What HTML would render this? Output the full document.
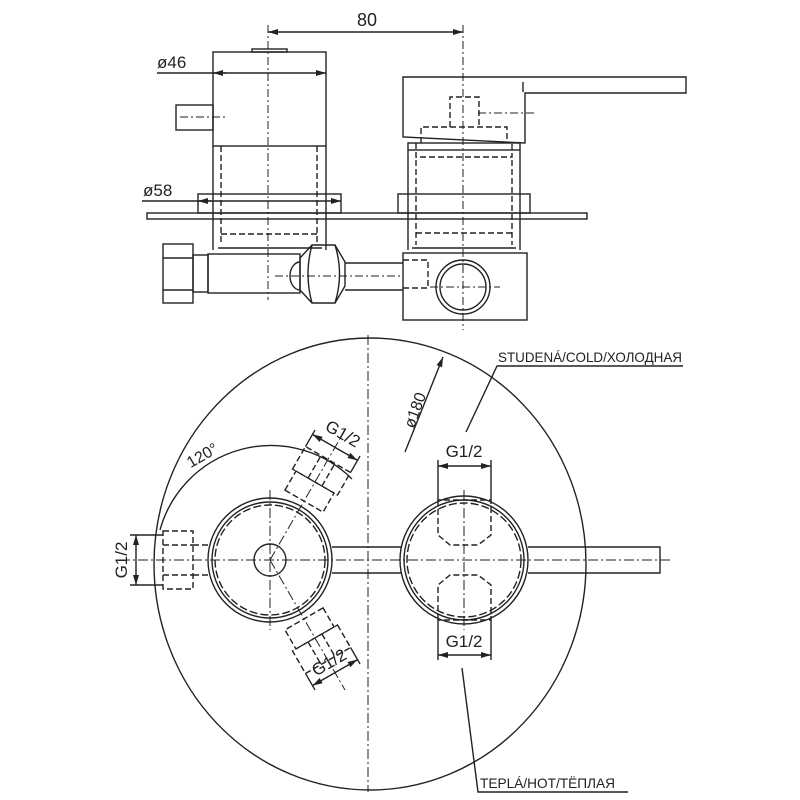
<!DOCTYPE html>
<html><head><meta charset="utf-8"><style>html,body{margin:0;padding:0;background:#fff}svg{display:block}</style></head><body>
<svg width="800" height="800" viewBox="0 0 800 800" xmlns="http://www.w3.org/2000/svg" font-family="Liberation Sans, DejaVu Sans, sans-serif" fill="none" stroke="#222" stroke-width="1.4">
<defs>
<marker id="a" viewBox="0 0 10 6" refX="10" refY="3" markerWidth="10" markerHeight="6" markerUnits="userSpaceOnUse" orient="auto-start-reverse"><path d="M0,0 L10,3 L0,6z" fill="#222" stroke="none"/></marker>
</defs>
<g stroke-dasharray="8,3,2,3" stroke-width="1">
<line x1="268" y1="25" x2="268" y2="300"/>
<line x1="463" y1="25" x2="463" y2="330"/>
<line x1="180" y1="117" x2="225" y2="117"/>
<line x1="478" y1="113" x2="535" y2="113"/>
<line x1="275" y1="276" x2="400" y2="276"/>
<line x1="430" y1="287" x2="500" y2="287"/>
</g>
<line x1="268" y1="32" x2="463" y2="32" marker-start="url(#a)" marker-end="url(#a)"/>
<text x="367" y="26" font-size="18" fill="#222" stroke="none" text-anchor="middle">80</text>
<rect x="213" y="52" width="113" height="94"/>
<rect x="252" y="49" width="35" height="3"/>
<rect x="176" y="105" width="37" height="25"/>
<line x1="157" y1="73" x2="326" y2="73" marker-end="url(#a)"/>
<path d="M226,73 L213,73" marker-end="url(#a)"/>
<text x="157" y="68" font-size="17" fill="#222" stroke="none">ø46</text>
<line x1="213" y1="146" x2="213" y2="250"/><line x1="326" y1="146" x2="326" y2="250"/>
<g stroke-dasharray="6,3"><line x1="221" y1="146" x2="221" y2="245"/><line x1="317" y1="146" x2="317" y2="245"/>
<line x1="221" y1="234" x2="317" y2="234"/></g>
<line x1="218" y1="248" x2="322" y2="248"/>
<rect x="198" y="194" width="143" height="19"/>
<line x1="142" y1="201" x2="341" y2="201" marker-end="url(#a)"/>
<path d="M211,201 L198,201" marker-end="url(#a)"/>
<text x="143" y="196" font-size="17" fill="#222" stroke="none">ø58</text>
<rect x="147" y="213" width="440" height="6"/>
<path d="M403,77 L686,77 L686,93 L525,93 L525,143 L403,137 Z"/>
<line x1="523" y1="82" x2="523" y2="92"/>
<g stroke-dasharray="6,3"><path d="M450,127 L450,97 L479,97 L479,127 M421,143 L421,127 L507,127 L507,143 M416,143 L416,157 L512,157 L512,143"/>
<line x1="416" y1="233" x2="512" y2="233"/><line x1="416" y1="160" x2="416" y2="245"/><line x1="512" y1="160" x2="512" y2="245"/></g>
<rect x="408" y="143" width="112" height="7"/>
<line x1="408" y1="150" x2="408" y2="250"/><line x1="520" y1="150" x2="520" y2="250"/>
<rect x="398" y="194" width="132" height="19"/>
<line x1="412" y1="248" x2="516" y2="248"/>
<rect x="163" y="244" width="30" height="59"/>
<line x1="163" y1="258" x2="193" y2="258"/><line x1="163" y1="290" x2="193" y2="290"/>
<rect x="193" y="255" width="15" height="37"/>
<rect x="208" y="254" width="92" height="39"/>
<path d="M300,262 A10,14 0 0 0 300,290"/>
<path d="M300,258 L312,245 L335,245 L345,262 L345,286 L335,303 L312,303 L300,290 Z"/>
<path d="M312,245 Q304,274 312,303 M335,245 Q344,274 335,303"/>
<line x1="345" y1="263" x2="403" y2="263"/><line x1="345" y1="290" x2="403" y2="290"/>
<rect x="403" y="253" width="124" height="67"/>
<path d="M403,260 L428,260 L428,288 L403,288" stroke-dasharray="6,3"/>
<circle cx="463" cy="287" r="27"/><circle cx="463" cy="287" r="23"/>
<ellipse cx="370" cy="564" rx="216" ry="226"/>
<g stroke-dasharray="10,3,2,3" stroke-width="1">
<line x1="368" y1="335" x2="368" y2="792"/>
<line x1="120" y1="560" x2="672" y2="560"/>
<line x1="270" y1="490" x2="270" y2="630"/>
<line x1="464" y1="490" x2="464" y2="630"/>
<line x1="270" y1="560" x2="345" y2="430"/>
<line x1="270" y1="560" x2="345" y2="690"/>
</g>
<circle cx="270" cy="560" r="62"/><circle cx="270" cy="560" r="58"/>
<circle cx="270" cy="560" r="55" stroke-dasharray="8,3"/>
<circle cx="270" cy="560" r="16"/>
<circle cx="464" cy="560" r="64"/><circle cx="464" cy="560" r="60"/>
<circle cx="464" cy="560" r="57" stroke-dasharray="8,3"/>
<line x1="332" y1="547" x2="402" y2="547"/><line x1="332" y1="573" x2="402" y2="573"/>
<path d="M528,547 L660,547 L660,573 L528,573"/>
<g stroke-dasharray="6,3"><rect x="163" y="531" width="30" height="58"/>
<line x1="163" y1="545" x2="193" y2="545"/><line x1="163" y1="575" x2="193" y2="575"/>
<line x1="193" y1="545" x2="210" y2="545"/><line x1="193" y1="575" x2="210" y2="575"/></g>
<line x1="136" y1="535" x2="136" y2="585" marker-start="url(#a)" marker-end="url(#a)"/>
<line x1="130" y1="535" x2="163" y2="535"/><line x1="130" y1="585" x2="163" y2="585"/>
<text transform="translate(127,560) rotate(-90)" font-size="17" fill="#222" stroke="none" text-anchor="middle">G1/2</text>
<path d="M160,530 A115,115 0 0 1 352,479"/>
<text transform="translate(205,460) rotate(-30)" font-size="16" fill="#222" stroke="none" text-anchor="middle">120°</text>
<g transform="translate(270,560) rotate(-60)">
<g stroke-dasharray="6,3"><rect x="68" y="-22" width="22" height="44"/><rect x="90" y="-26" width="26" height="52"/>
<line x1="90" y1="-8" x2="116" y2="-8"/><line x1="90" y1="8" x2="116" y2="8"/></g>
<line x1="116" y1="-26" x2="135" y2="-26"/><line x1="116" y1="26" x2="135" y2="26"/>
<line x1="130" y1="-26" x2="130" y2="26" marker-start="url(#a)" marker-end="url(#a)"/>
<text transform="translate(140,0) rotate(90)" font-size="17" fill="#222" stroke="none" text-anchor="middle">G1/2</text>
</g>
<g transform="translate(270,560) rotate(60)">
<g stroke-dasharray="6,3"><rect x="68" y="-22" width="22" height="44"/><rect x="90" y="-26" width="26" height="52"/>
<line x1="90" y1="-8" x2="116" y2="-8"/><line x1="90" y1="8" x2="116" y2="8"/></g>
<line x1="116" y1="-26" x2="135" y2="-26"/><line x1="116" y1="26" x2="135" y2="26"/>
<line x1="130" y1="-26" x2="130" y2="26" marker-start="url(#a)" marker-end="url(#a)"/>
<text transform="translate(124,0) rotate(-90)" font-size="17" fill="#222" stroke="none" text-anchor="middle">G1/2</text>
</g>
<g stroke-dasharray="6,3"><path d="M438,500 L438,535 L450,545 L478,545 L491,535 L491,500 Z M438,620 L438,585 L450,575 L478,575 L491,585 L491,620 Z"/></g>
<line x1="438" y1="460" x2="438" y2="500"/><line x1="491" y1="460" x2="491" y2="500"/>
<line x1="438" y1="466" x2="491" y2="466" marker-start="url(#a)" marker-end="url(#a)"/>
<text x="464" y="457" font-size="17" fill="#222" stroke="none" text-anchor="middle">G1/2</text>
<line x1="438" y1="620" x2="438" y2="660"/><line x1="491" y1="620" x2="491" y2="660"/>
<line x1="438" y1="655" x2="491" y2="655" marker-start="url(#a)" marker-end="url(#a)"/>
<text x="464" y="647" font-size="17" fill="#222" stroke="none" text-anchor="middle">G1/2</text>
<line x1="405" y1="452" x2="443" y2="357" marker-end="url(#a)"/>
<text transform="translate(420,412) rotate(-70)" font-size="16" fill="#222" stroke="none" text-anchor="middle">ø180</text>
<path d="M466,432 L497,366 L683,366"/>
<text x="498" y="362" font-size="14" fill="#222" stroke="none" textLength="184" lengthAdjust="spacingAndGlyphs">STUDENÁ/COLD/ХОЛОДНАЯ</text>
<path d="M462,668 L478,792 L628,792"/>
<text x="480" y="788" font-size="14" fill="#222" stroke="none" textLength="135" lengthAdjust="spacingAndGlyphs">TEPLÁ/HOT/TЁПЛАЯ</text>
</svg>
</body></html>
